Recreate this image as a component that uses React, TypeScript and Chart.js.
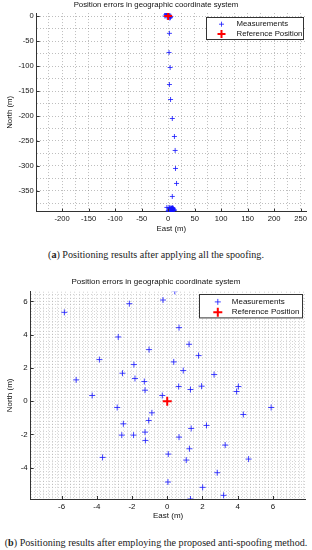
import React, { useEffect, useRef } from 'react';
import { Chart, registerables } from 'chart.js';

Chart.register(...registerables);

// ---------------- data ----------------
const TITLE = 'Position errors in geographic coordinate system';
const X_LABEL = 'East (m)';
const Y_LABEL = 'North (m)';
const SERIES_LABELS = ['Measurements', 'Reference Position'];

// (a) all spoofing applied
const topMeasEast = [
  -4, 2, -2, 5, -6, 1, 3, -1, -3, 4,
  2.4, 1.6, 3.7, 2.4, 4.5, 7.8, 11.8, 13.2, 13.8, 15.8, 7.8, -2.4,
  2, 4, 6, 8, 10, 3, 5, 7, 9, 1, 4, 6, 8, 5, 7, 11, 0, 3,
  2, 4, 6, 8, 10, 3, 5, 7, 9, 12, 1, 6, 9, 4, 7,
];
const topMeasNorth = [
  3, 1, -2, -1, 0, 4, -4, 2, 5, -3,
  -34.6, -73, -103, -137, -167, -205, -241, -269, -305, -335, -361, -383,
  -385, -388, -390, -386, -389, -392, -391, -384, -387, -389, -393, -386, -390, -388, -392, -389, -390, -387,
  -383, -384, -385, -384, -386, -388, -386, -385, -384, -388, -391, -391, -386, -392, -393,
];
const refEast = [0];
const refNorth = [0];
const topXTicks = [-200, -150, -100, -50, 0, 50, 100, 150, 200, 250];
const topYTicks = [0, -50, -100, -150, -200, -250, -300, -350];

// (b) after anti-spoofing
const botMeasEast = [
  0.43, -0.24, -2.15, -5.84, 0.67, -2.78, 1.24, -1.03, -3.85, 1.78,
  0.37, -1.89, 0.91, -2.54, 2.66, -5.17, -1.83, -1.3, 0.65, 1.95,
  1.32, -1.26, 4.04, 3.94, -4.26, -0.28,
  -2.84, 5.9, -0.87, 4.32, -2.49, -1.05, 2.23, 1.36, -2.58, -1.91,
  -1.26, -1.24, 0.67, 3.29, 1.26, -3.67, 0.06, 1.08, 4.62, 2.84,
  0.04, 2.01, 3.2, 1.32,
];
const botMeasNorth = [
  6.6, 6.08, 5.86, 5.34, 4.42, 3.86, 3.42, 3.1, 2.5, 2.74,
  2.36, 2.2, 1.84, 1.68, 1.6, 1.28, 1.36, 1.18, 0.88, 0.9,
  0.7, 0.66, 0.88, 0.58, 0.34, 0.34,
  -0.38, -0.38, -0.7, -0.8, -1.36, -1.16, -1.46, -1.64, -2.04, -2.04,
  -1.86, -2.36, -2.16, -2.64, -2.86, -3.38, -3.18, -3.54, -3.48, -4.3,
  -4.86, -5.18, -5.66, -5.88,
];
const botXTicks = [-6, -4, -2, 0, 2, 4, 6];
const botYTicks = [-4, -2, 0, 2, 4, 6];

const CAPTION_A = ['a', ' Positioning results after applying all the spoofing.'];
const CAPTION_B = ['b', ' Positioning results after employing the proposed anti-spoofing method.'];

// ---------------- helpers ----------------
const SANS = "'Liberation Sans', Arial, Helvetica, sans-serif";

function stepValues(min: number, max: number, step: number) {
  const out: number[] = [];
  const start = Math.ceil(min / step - 1e-9);
  for (let k = start; k * step <= max + 1e-9; k++) out.push(Math.round(k * step * 1e6) / 1e6);
  return out;
}

const tickMarkPlugin = {
  id: 'tickMarks',
  afterDraw(chart: any, _a: any, o: any) {
    const { ctx, chartArea: ca, scales } = chart;
    ctx.save();
    ctx.strokeStyle = '#333';
    ctx.lineWidth = 1;
    ctx.beginPath();
    for (const v of o.xMajor) {
      const px = Math.round(scales.x.getPixelForValue(v)) + 0.5;
      ctx.moveTo(px, ca.bottom);
      ctx.lineTo(px, ca.bottom - 3);
    }
    for (const v of o.yMajor) {
      const py = Math.round(scales.y.getPixelForValue(v)) + 0.5;
      ctx.moveTo(ca.left, py);
      ctx.lineTo(ca.left + 3, py);
    }
    ctx.stroke();
    ctx.restore();
  },
};

const boxLegendPlugin = {
  id: 'boxLegend',
  afterDraw(chart: any, _a: any, o: any) {
    const { ctx, chartArea: ca } = chart;
    const left = Math.round(ca.right - o.dx - o.w) + 0.5;
    const top = Math.round(ca.top + o.dy) + 0.5;
    ctx.save();
    ctx.fillStyle = '#fff';
    ctx.fillRect(left, top, o.w, o.h);
    ctx.strokeStyle = '#333';
    ctx.lineWidth = 1;
    ctx.strokeRect(left, top, o.w, o.h);
    chart.data.datasets.forEach((ds: any, i: number) => {
      const cy = top + o.row0 + i * o.rowGap;
      const cx = left + o.mx;
      const r = ds.pointRadius;
      ctx.strokeStyle = ds.pointBorderColor;
      ctx.lineWidth = ds.pointBorderWidth;
      ctx.beginPath();
      ctx.moveTo(cx - r, cy);
      ctx.lineTo(cx + r, cy);
      ctx.moveTo(cx, cy - r);
      ctx.lineTo(cx, cy + r);
      ctx.stroke();
      ctx.fillStyle = '#111';
      ctx.font = `${o.fontSize}px ${SANS}`;
      ctx.textBaseline = 'middle';
      ctx.textAlign = 'left';
      ctx.fillText(ds.label, left + o.tx, cy);
    });
    ctx.restore();
  },
};

type Spec = {
  width: number; height: number;
  xMin: number; xMax: number; yMin: number; yMax: number;
  xMajor: number[]; yMajor: number[]; xStep: number; yStep: number;
  measX: number[]; measY: number[];
  fontSize: number; tickFont: number;
  yAxisWidth: number; xAxisHeight: number;
  titlePad: { top: number; bottom: number };
  yTitlePad: number; xTitlePad: number;
  measR: number; refR: number;
  gridColor: string;
  legend: any;
};

function makeConfig(s: Spec): any {
  const xVals = stepValues(s.xMin, s.xMax, s.xStep);
  const yVals = stepValues(s.yMin, s.yMax, s.yStep);
  return {
    type: 'scatter',
    data: {
      datasets: [
        {
          label: SERIES_LABELS[0],
          data: s.measX.map((x, i) => ({ x, y: s.measY[i] })),
          pointStyle: 'cross',
          pointRadius: s.measR,
          pointBorderWidth: 1,
          pointBorderColor: 'rgba(20,20,255,0.8)',
          borderColor: 'rgba(20,20,255,0.8)',
          backgroundColor: 'rgba(20,20,255,0.8)',
          order: 1,
        },
        {
          label: SERIES_LABELS[1],
          data: refEast.map((x, i) => ({ x, y: refNorth[i] })),
          pointStyle: 'cross',
          pointRadius: s.refR,
          pointBorderWidth: 2,
          pointBorderColor: '#ff0000',
          borderColor: '#ff0000',
          backgroundColor: '#ff0000',
          order: 0,
        },
      ],
    },
    options: {
      animation: false,
      responsive: false,
      devicePixelRatio: 1,
      layout: { padding: 0 },
      events: [],
      scales: {
        x: {
          type: 'linear',
          min: s.xMin,
          max: s.xMax,
          afterBuildTicks: (sc: any) => { sc.ticks = xVals.map((v) => ({ value: v })); },
          afterFit: (sc: any) => { sc.height = s.xAxisHeight; },
          ticks: {
            autoSkip: false, maxRotation: 0, padding: 3, color: '#111',
            font: { family: SANS, size: s.tickFont },
            callback: (v: number) => (s.xMajor.includes(v) ? String(v) : ''),
          },
          grid: { color: s.gridColor, lineWidth: 1, drawTicks: false },
          border: { display: true, color: '#333', width: 1, dash: [1, 2] },
          title: {
            display: true, text: X_LABEL, color: '#111',
            font: { family: SANS, size: s.fontSize },
            padding: { top: 0, bottom: s.xTitlePad },
          },
        },
        y: {
          type: 'linear',
          min: s.yMin,
          max: s.yMax,
          afterBuildTicks: (sc: any) => { sc.ticks = yVals.map((v) => ({ value: v })); },
          afterFit: (sc: any) => { sc.width = s.yAxisWidth; },
          ticks: {
            autoSkip: false, padding: 3, color: '#111',
            font: { family: SANS, size: s.tickFont },
            callback: (v: number) => (s.yMajor.includes(v) ? String(v) : ''),
          },
          grid: { color: s.gridColor, lineWidth: 1, drawTicks: false },
          border: { display: true, color: '#333', width: 1, dash: [1, 2] },
          title: {
            display: true, text: Y_LABEL, color: '#111',
            font: { family: SANS, size: s.fontSize },
            padding: { top: s.yTitlePad, bottom: 0 },
          },
        },
      },
      plugins: {
        legend: { display: false },
        tooltip: { enabled: false },
        title: {
          display: true, text: TITLE, color: '#111',
          font: { family: SANS, size: s.fontSize, weight: 'normal' },
          padding: s.titlePad,
        },
        tickMarks: { xMajor: s.xMajor, yMajor: s.yMajor },
        boxLegend: s.legend,
      },
    },
    plugins: [tickMarkPlugin, boxLegendPlugin],
  };
}

const topSpec: Spec = {
  width: 312, height: 240,
  xMin: -248, xMax: 260, yMin: -391.5, yMax: 6,
  xMajor: topXTicks, yMajor: topYTicks, xStep: 25, yStep: 25,
  measX: topMeasEast, measY: topMeasNorth,
  fontSize: 7.8, tickFont: 7.6,
  yAxisWidth: 36.7, xAxisHeight: 28.3,
  titlePad: { top: 0.4, bottom: 3.3 },
  yTitlePad: 4.7, xTitlePad: 6.7,
  measR: 2.5, refR: 4,
  gridColor: 'rgba(110,110,110,0.45)',
  legend: { dx: 3, dy: 4, w: 97, h: 22, row0: 6.7, rowGap: 9.7, mx: 15, tx: 30, fontSize: 7.8 },
};

const botSpec: Spec = {
  width: 312, height: 258,
  xMin: -7.75, xMax: 7.85, yMin: -5.88, yMax: 6.58,
  xMajor: botXTicks, yMajor: botYTicks, xStep: 0.25, yStep: 0.2,
  measX: botMeasEast, measY: botMeasNorth,
  fontSize: 8, tickFont: 7.9,
  yAxisWidth: 30.7, xAxisHeight: 29,
  titlePad: { top: 7.2, bottom: 4.9 },
  yTitlePad: 4.5, xTitlePad: 7.2,
  measR: 3, refR: 4.5,
  gridColor: 'rgba(130,130,130,0.35)',
  legend: { dx: 3.3, dy: 2.6, w: 103, h: 23.4, row0: 7.4, rowGap: 10.3, mx: 18.3, tx: 32.3, fontSize: 8 },
};

function ChartCanvas({ spec, top }: { spec: Spec; top: number }) {
  const ref = useRef<HTMLCanvasElement | null>(null);
  useEffect(() => {
    if (!ref.current) return;
    const chart = new Chart(ref.current, makeConfig(spec));
    return () => chart.destroy();
  }, [spec]);
  return (
    <canvas
      ref={ref}
      width={spec.width}
      height={spec.height}
      style={{ position: 'absolute', left: 0, top, width: spec.width, height: spec.height }}
    />
  );
}

function Caption({ parts, top }: { parts: string[]; top: number }) {
  return (
    <div
      style={{
        position: 'absolute', left: 0, top, width: 312, height: 12, lineHeight: '12px',
        textAlign: 'center', whiteSpace: 'nowrap', color: '#222',
        fontFamily: "'Liberation Serif', 'Times New Roman', serif", fontSize: 10.1,
      }}
    >
      (<b>{parts[0]}</b>){parts[1]}
    </div>
  );
}

export default function App() {
  useEffect(() => {
    document.body.style.margin = '0';
    document.body.style.background = '#fff';
  }, []);
  return (
    <div style={{ position: 'relative', width: 312, height: 550, background: '#fff', overflow: 'hidden' }}>
      <ChartCanvas spec={topSpec} top={0} />
      <Caption parts={CAPTION_A} top={249} />
      <ChartCanvas spec={botSpec} top={270} />
      <Caption parts={CAPTION_B} top={537} />
    </div>
  );
}
